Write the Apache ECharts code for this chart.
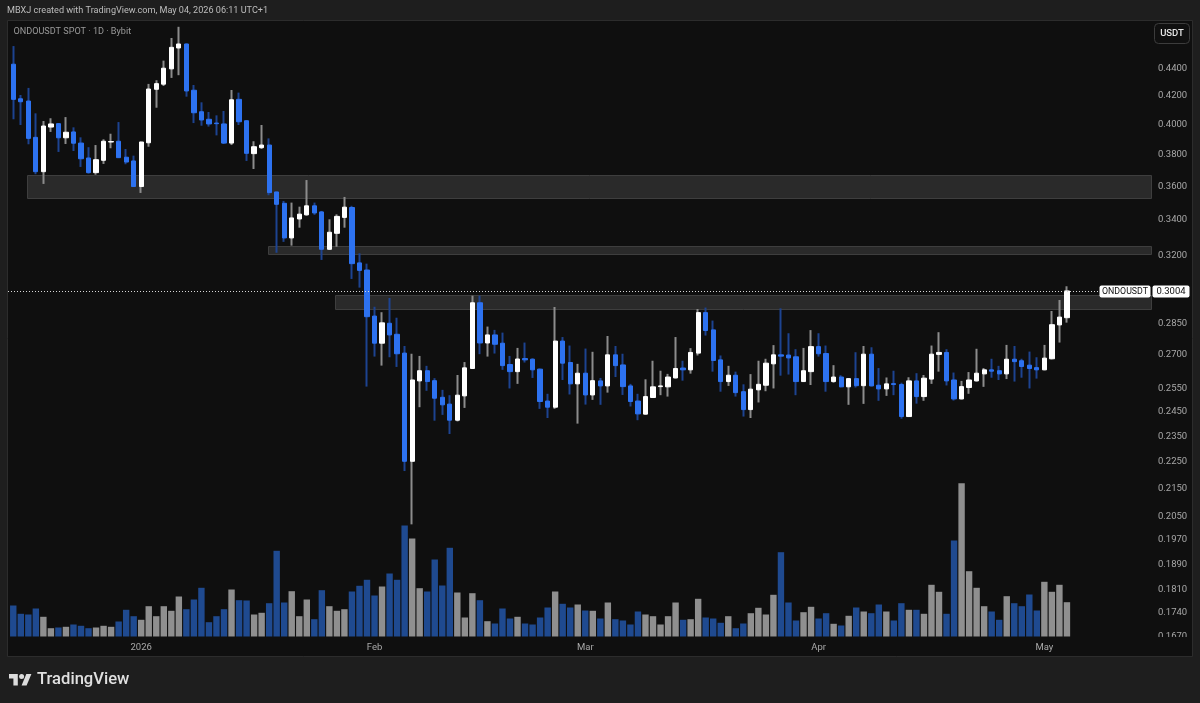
<!DOCTYPE html>
<html>
<head>
<meta charset="utf-8">
<title>ONDOUSDT SPOT 1D</title>
<script src="https://cdn.jsdelivr.net/npm/echarts@6/dist/echarts.min.js"></script>
<style>
  html, body { margin: 0; padding: 0; background: #1e1e1e; }
  #chart { width: 1200px; height: 703px; }
</style>
</head>
<body>
<div id="chart"></div>
<script>
// Daily OHLC for ONDOUSDT, first bar 2025-12-15, last bar 2026-05-04.
const opens = [
  .4421,.4168,.4152,.3903,.3681,.3972,.3995,.3900,.3939,.3865,.3768,.3675,.3753,.3872,.3877,.3773,.3749,.3589,.3867,.4236,
  .4273,.4386,.4545,.4576,.4229,.4077,.4025,.3999,.3993,.3865,.4164,.4015,.3796,.3835,.3852,.3556,.3488,.3288,.3396,.3420,
  .3473,.3437,.3225,.3314,.3405,.3463,.3151,.3113,.2878,.2748,.2843,.2790,.2702,.2247,.2577,.2622,.2578,.2506,.2477,.2410,
  .2512,.2632,.2944,.2749,.2787,.2748,.2650,.2618,.2677,.2674,.2629,.2490,.2464,.2758,.2659,.2564,.2611,.2516,.2577,.2555,
  .2694,.2648,.2555,.2490,.2435,.2505,.2552,.2551,.2590,.2634,.2626,.2702,.2895,.2811,.2671,.2574,.2602,.2530,.2454,.2538,
  .2558,.2653,.2694,.2693,.2685,.2574,.2618,.2732,.2700,.2574,.2594,.2551,.2587,.2556,.2697,.2558,.2542,.2565,.2561,.2425,
  .2577,.2509,.2585,.2696,.2705,.2581,.2499,.2548,.2577,.2608,.2626,.2622,.2608,.2674,.2667,.2647,.2636,.2626,.2676,.2835,
  .2870
];
const closes = [
  .4164,.4147,.3896,.3681,.3979,.3993,.3900,.3937,.3864,.3763,.3675,.3757,.3877,.3875,.3770,.3742,.3589,.3872,.4238,.4277,
  .4391,.4550,.4576,.4224,.4070,.4020,.3993,.3995,.3865,.4161,.4008,.3798,.3841,.3852,.3552,.3482,.3288,.3402,.3424,.3473,
  .3431,.3225,.3320,.3411,.3465,.3147,.3111,.2875,.2748,.2845,.2787,.2699,.2247,.2581,.2622,.2574,.2502,.2474,.2410,.2515,
  .2635,.2944,.2749,.2787,.2743,.2645,.2618,.2675,.2671,.2626,.2488,.2464,.2758,.2656,.2564,.2611,.2516,.2578,.2555,.2694,
  .2645,.2552,.2488,.2436,.2509,.2551,.2555,.2594,.2632,.2626,.2705,.2895,.2808,.2668,.2574,.2602,.2526,.2454,.2541,.2562,
  .2656,.2694,.2688,.2680,.2574,.2622,.2732,.2699,.2574,.2594,.2551,.2587,.2556,.2697,.2555,.2542,.2564,.2561,.2425,.2577,
  .2509,.2589,.2697,.2705,.2577,.2499,.2552,.2581,.2611,.2626,.2620,.2608,.2674,.2663,.2641,.2632,.2626,.2679,.2836,.2873,
  .3004
];
const lows = [
  .4025,.3986,.3857,.3665,.3605,.3939,.3807,.3859,.3813,.3711,.3669,.3662,.3730,.3831,.3768,.3728,.3587,.3550,.3841,.4105,
  .4260,.4319,.4339,.4183,.3999,.3981,.3975,.3916,.3859,.3852,.3986,.3749,.3698,.3826,.3536,.3206,.3266,.3245,.3346,.3415,
  .3420,.3167,.3221,.3239,.3346,.3066,.3021,.2552,.2686,.2645,.2683,.2639,.2210,.2018,.2464,.2534,.2408,.2432,.2354,.2405,
  .2461,.2630,.2697,.2686,.2700,.2626,.2544,.2564,.2659,.2590,.2457,.2419,.2457,.2581,.2518,.2396,.2475,.2495,.2474,.2526,
  .2594,.2516,.2467,.2410,.2433,.2504,.2515,.2509,.2588,.2578,.2609,.2691,.2784,.2618,.2530,.2555,.2509,.2425,.2419,.2484,
  .2532,.2544,.2600,.2605,.2515,.2572,.2559,.2686,.2530,.2569,.2549,.2474,.2548,.2478,.2553,.2491,.2512,.2515,.2416,.2423,
  .2479,.2491,.2564,.2618,.2557,.2492,.2497,.2521,.2574,.2551,.2591,.2581,.2585,.2574,.2591,.2544,.2587,.2624,.2673,.2751,
  .2846
];
const highs = [
  .4560,.4195,.4246,.4066,.4013,.4032,.3998,.4040,.3970,.3903,.3838,.3852,.3890,.3927,.4006,.3826,.3783,.3874,.4275,.4302,
  .4448,.4623,.4712,.4580,.4267,.4143,.4075,.4052,.4082,.4231,.4212,.4018,.3877,.3986,.3896,.3558,.3502,.3492,.3468,.3629,
  .3492,.3443,.3394,.3423,.3526,.3473,.3203,.3147,.2924,.2897,.2968,.2870,.2735,.2699,.2689,.2644,.2589,.2538,.2515,.2603,
  .2661,.2980,.2980,.2827,.2811,.2798,.2689,.2726,.2751,.2678,.2632,.2521,.2923,.2777,.2737,.2653,.2723,.2708,.2590,.2782,
  .2735,.2699,.2564,.2521,.2584,.2667,.2622,.2608,.2777,.2667,.2725,.2913,.2920,.2856,.2691,.2644,.2618,.2562,.2607,.2667,
  .2676,.2739,.2916,.2795,.2720,.2726,.2810,.2795,.2737,.2647,.2602,.2589,.2706,.2735,.2729,.2634,.2592,.2622,.2569,.2593,
  .2611,.2603,.2737,.2800,.2720,.2614,.2577,.2616,.2722,.2634,.2676,.2644,.2740,.2735,.2676,.2709,.2683,.2740,.2903,.2958,
  .3028
];
// Traded volume per day, in relative units.
const volumes = [
  31,22.7,22,28,19.7,8.3,9,9.7,12,10.7,8.3,9,10.7,9.7,15,26.7,20.3,16.7,30.3,20.3,
  30.3,25.7,40,27.3,37,48.7,14.3,20.3,27.3,47,36.3,36,22,23.7,33.3,85.7,34,45.3,20.3,37,
  17.3,46.3,30.3,25.7,27.3,45,50.7,56.7,41,50,63,56.7,111,98,48.3,45,77,51,88.7,44,
  19,43.3,36.3,15.3,13,28,18,19.7,13,12,19,29,45,32.7,29,32,26,25.7,18,34,
  17.3,16,12,25,22,20.3,12,20.3,34,16.7,17.3,37.7,19,18,13.7,20.3,8.3,13,23.3,28.7,
  22,41.7,84.3,34,16,24.3,29.7,18,23.3,12.7,11,20.7,29,25,23.3,32,25,16,33.3,26.7,
  26.7,22.7,51.7,44.7,22.7,96,153.3,65.3,48.7,30.3,25,16.7,40.3,33.3,30.3,42,26,54.7,44.7,51.7,
  34.3
];
const priceTicks = [0.44,0.42,0.40,0.38,0.36,0.34,0.32,0.285,0.27,0.255,0.245,0.235,0.225,0.215,0.205,0.197,0.189,0.181,0.174,0.167];
// Zone bands: start bar (fractional), top price, end bar, bottom price.
const zones = [
  [1.78, 0.3660, 151.5, 0.3520],
  [33.8, 0.3245, 151.5, 0.3203],
  [42.8, 0.2982, 151.5, 0.2912]
];
const timeLabels = { '2026-01-01': '2026', '2026-02-01': 'Feb', '2026-03-01': 'Mar', '2026-04-01': 'Apr', '2026-05-01': 'May' };
const FUTURE_SLOTS = 11;

const UI_FONT = 'Roboto, sans-serif';
const UP = '#ffffff', DOWN = '#2d72f0', UP_WICK = '#8c8c8c', DOWN_WICK = '#1d4390';

const categories = [];
for (let i = 0; i < opens.length + FUTURE_SLOTS; i++) {
  categories.push(new Date(Date.UTC(2025, 11, 15 + i)).toISOString().slice(0, 10));
}
const lastIndex = opens.length - 1;
const lastClose = closes[lastIndex];

const chart = echarts.init(document.getElementById('chart'), null, { renderer: 'canvas' });
chart.setOption({
  animation: false,
  backgroundColor: '#1e1e1e',
  graphic: [
    { type: 'rect', z: -10, shape: { x: 7.5, y: 20.5, width: 1185, height: 636, r: 0 },
      style: { fill: '#0f0f0f', stroke: '#2c2c2c', lineWidth: 1 } },
    // keeps the lowest price label cut at the pane edge
    { type: 'rect', z: 50, shape: { x: 1154, y: 637, width: 37, height: 12 }, style: { fill: '#0f0f0f' } },
    { type: 'text', z: 60, style: { x: 7, y: 11, text: 'MBXJ created with TradingView.com, May 04, 2026 06:11 UTC+1',
        fill: '#bdbdbd', font: '9.1px ' + UI_FONT, verticalAlign: 'middle' } },
    { type: 'text', z: 60, style: { x: 13.5, y: 32, text: 'ONDOUSDT SPOT · 1D · Bybit',
        fill: '#9a9a9a', font: '9.1px ' + UI_FONT, verticalAlign: 'middle' } },
    { type: 'rect', z: 60, shape: { x: 1154.5, y: 23.5, width: 35, height: 20, r: 4 },
      style: { fill: '#101010', stroke: '#3c3c3c', lineWidth: 1 } },
    { type: 'text', z: 61, style: { x: 1172, y: 33.5, text: 'USDT', fill: '#e6e6e6',
        font: '500 9.5px ' + UI_FONT, align: 'center', verticalAlign: 'middle' } },
    // logo mark
    { type: 'polygon', z: 60, shape: { points: [[9, 674], [17.8, 674], [17.8, 685.4], [13.4, 685.4], [13.4, 678.4], [9, 678.4]] }, style: { fill: '#dcdcdc' } },
    { type: 'polygon', z: 60, shape: { points: [[26.6, 685.4], [21.6, 685.4], [26.3, 674], [31.4, 674]] }, style: { fill: '#dcdcdc' } },
    { type: 'circle', z: 60, shape: { cx: 21.6, cy: 676.5, r: 2.5 }, style: { fill: '#dcdcdc' } },
    { type: 'text', z: 60, style: { x: 37, y: 680, text: 'TradingView', fill: '#e0e0e0',
        font: '500 16.6px ' + UI_FONT, verticalAlign: 'middle' } }
  ],
  grid: [
    { left: 9.5, top: 20, width: 1144, height: 620 },
    { left: 9.5, top: 480, width: 1144, height: 156.5 }
  ],
  xAxis: [
    { type: 'category', gridIndex: 0, data: categories, show: false },
    { type: 'category', gridIndex: 1, data: categories,
      axisLine: { show: false }, axisTick: { show: false }, splitLine: { show: false },
      axisLabel: {
        margin: 6, color: '#a8a8a8', fontSize: 9.5, fontFamily: UI_FONT,
        interval: (i, v) => v in timeLabels,
        formatter: v => timeLabels[v] || ''
      } },
    { type: 'value', gridIndex: 0, min: -0.5, max: categories.length - 0.5, show: false }
  ],
  yAxis: [
    { type: 'log', gridIndex: 0, position: 'right', min: 0.1657, max: 0.4767,
      axisLine: { show: false }, axisTick: { show: false }, splitLine: { show: false },
      axisLabel: {
        customValues: priceTicks, margin: 4.5, color: '#a8a8a8', fontSize: 9.5, fontFamily: UI_FONT,
        verticalAlign: 'top', lineHeight: 3,
        formatter: v => Number(v).toFixed(4)
      } },
    { type: 'value', gridIndex: 1, min: 0, max: 156.5, show: false }
  ],
  series: [
    {
      name: 'Zones', type: 'custom', xAxisIndex: 2, yAxisIndex: 0, z: 1, silent: true, clip: false,
      data: zones,
      encode: { x: [0, 2], y: [1, 3] },
      renderItem: (params, api) => {
        const a = api.coord([api.value(0), api.value(1)]);
        const b = api.coord([api.value(2), api.value(3)]);
        return { type: 'rect',
          shape: { x: Math.round(a[0]) + 0.5, y: Math.round(a[1]) + 0.5, width: Math.round(1151 - a[0]), height: Math.round(b[1] - a[1]) },
          style: { fill: '#2a2a2a', stroke: '#3e3e3e', lineWidth: 1 } };
      }
    },
    {
      name: 'Wicks', type: 'candlestick', xAxisIndex: 0, yAxisIndex: 0, z: 2, silent: true, barWidth: 1,
      data: opens.map((o, i) => [o, closes[i], lows[i], highs[i]]),
      itemStyle: { color: UP_WICK, color0: DOWN_WICK, borderColor: UP_WICK, borderColor0: DOWN_WICK, borderWidth: 2 }
    },
    {
      name: 'Bodies', type: 'candlestick', xAxisIndex: 0, yAxisIndex: 0, z: 3, silent: true, barWidth: 4.8,
      data: opens.map((o, i) => [o, closes[i], Math.min(o, closes[i]), Math.max(o, closes[i])]),
      itemStyle: { color: UP, color0: DOWN, borderColor: UP, borderColor0: DOWN, borderWidth: 1 }
    },
    {
      name: 'Volume', type: 'bar', xAxisIndex: 1, yAxisIndex: 1, z: 2, silent: true, barWidth: 6.4,
      data: volumes.map((v, i) => ({ value: v, itemStyle: { color: closes[i] >= opens[i] ? '#8f8f8f' : '#1f4a90' } }))
    },
    {
      name: 'Last price', type: 'custom', xAxisIndex: 2, yAxisIndex: 0, z: 20, silent: true, clip: false,
      data: [[lastIndex, lastClose]],
      encode: { x: 0, y: 1 },
      renderItem: (params, api) => {
        const y = Math.round(api.coord([api.value(0), api.value(1)])[1]) + 0.5;
        const font = '8.8px ' + UI_FONT;
        return { type: 'group', children: [
          { type: 'line', shape: { x1: 8, y1: y, x2: 1099, y2: y },
            style: { stroke: '#d8d8d8', lineWidth: 1, lineDash: [1, 2] } },
          { type: 'rect', shape: { x: 1099.5, y: y - 6, width: 51, height: 12, r: 2 }, style: { fill: '#ffffff' } },
          { type: 'rect', shape: { x: 1152.5, y: y - 6, width: 37, height: 12, r: 2 }, style: { fill: '#ffffff' } },
          { type: 'text', style: { x: 1125, y: y + 0.5, text: 'ONDOUSDT', fill: '#111111', font, align: 'center', verticalAlign: 'middle' } },
          { type: 'text', style: { x: 1171, y: y + 0.5, text: api.value(1).toFixed(4), fill: '#111111', font: '9.5px ' + UI_FONT, align: 'center', verticalAlign: 'middle' } }
        ] };
      }
    }
  ]
});
</script>
</body>
</html>
